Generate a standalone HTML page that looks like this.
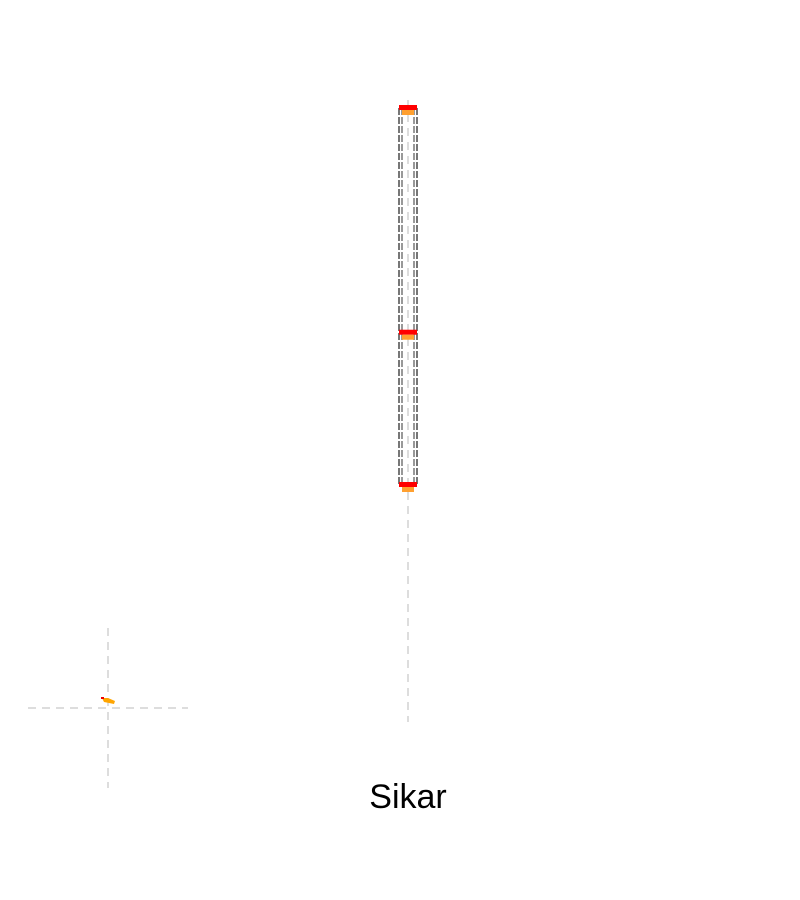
<!DOCTYPE html>
<html><head><meta charset="utf-8"><style>
html,body{margin:0;padding:0;background:#fff;width:800px;height:900px;overflow:hidden}
svg{display:block}
</style></head><body>
<svg id="chart" width="800" height="900" xmlns="http://www.w3.org/2000/svg">
<g id="marks"></g>
<text x="408" y="808" text-anchor="middle" font-family="Liberation Sans, sans-serif" font-size="34" fill="#000">Sikar</text>
</svg>
<script>
const categories = ["Sikar"];
const levelValues = [100, 63.4, 38.6];
const yTicks = [0, 100];
const NS = "http://www.w3.org/2000/svg";
const g = document.getElementById("marks");
function y(v){ return 722 - v * 6.14; }
function x(i){ return 408 + i * 100; }
function mk(tag, attrs){ const e=document.createElementNS(NS,tag); for(const k in attrs) e.setAttribute(k,attrs[k]); g.appendChild(e); return e; }
let c = mk("line",{x1:x(0),x2:x(0),y1:y(yTicks[1])-8,y2:y(yTicks[0]),stroke:"#ddd","stroke-width":2,"stroke-dasharray":"8,6"});


const colTop = y(Math.max(...levelValues)), colBot = y(Math.min(...levelValues));
[[-9,"#777"],[-6,"#999"],[6,"#999"],[9,"#777"]].forEach(([dx,col])=>{
  const l = mk("line",{x1:x(0)+dx,x2:x(0)+dx,y1:colTop,y2:colBot,stroke:col,"stroke-width":2,"stroke-dasharray":"7,2"});
  
  
});
levelValues.forEach((v,i)=>{
  const r = mk("rect",{x:x(0)-9,y:y(v)-3,width:18,height:5,fill:"#f00"});
  
  
  const o = mk("rect",{x:x(0)-6,y:y(v)+2,width:12,height:5,fill:"#ffa030"});
  
  
});
const h = mk("line",{x1:28,x2:188,y1:708,y2:708,stroke:"#ddd","stroke-width":2,"stroke-dasharray":"8,6"});


const vv = mk("line",{x1:108,x2:108,y1:628,y2:788,stroke:"#ddd","stroke-width":2,"stroke-dasharray":"8,6"});


const b = mk("path",{d:"M102,698 L108,698 L115,701 L114,704 L104,702 Z",fill:"#ffa500"});


const b2 = mk("rect",{x:101,y:697,width:3,height:2,fill:"#e00"});


</script>
</body></html>
